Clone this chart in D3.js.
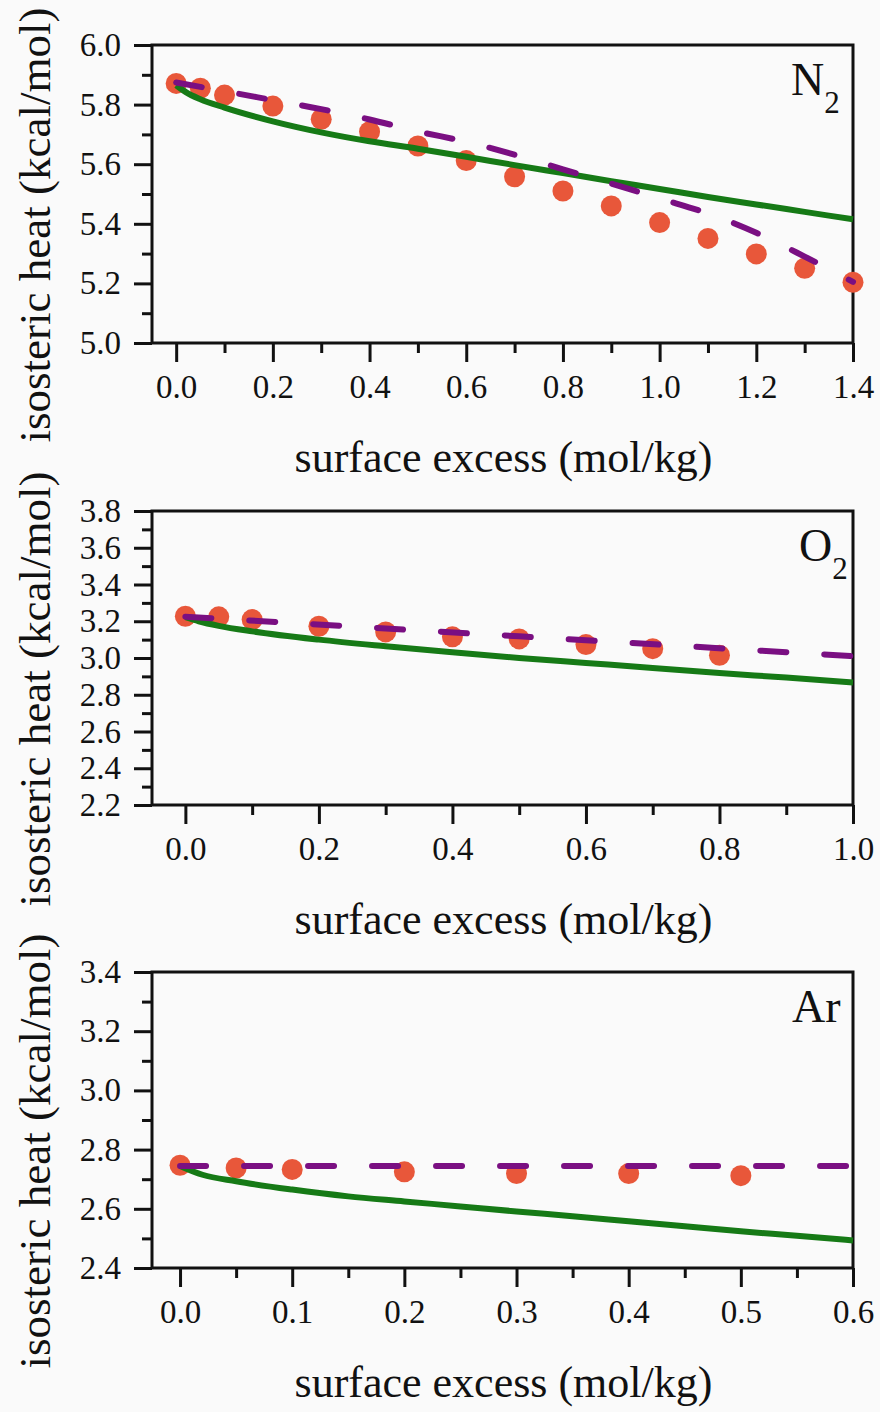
<!DOCTYPE html>
<html>
<head>
<meta charset="utf-8">
<script src="https://cdn.jsdelivr.net/npm/d3@7"></script>
<style>
  html, body { margin: 0; padding: 0; background: #fafafa; }
  svg { display: block; }
  text { font-family: "Liberation Serif", "Times New Roman", serif; fill: #111; }
</style>
</head>
<body>
<svg id="chart" width="880" height="1412"></svg>
<script>
// ---------------- DATA ----------------
// N2 panel
const n2PointX = [0, 0.05, 0.1, 0.2, 0.3, 0.4, 0.5, 0.6, 0.7, 0.8, 0.9, 1.0, 1.1, 1.2, 1.3, 1.4];
const n2PointY = [5.871, 5.855, 5.832, 5.795, 5.751, 5.709, 5.661, 5.612, 5.558, 5.51, 5.46, 5.404, 5.351, 5.299, 5.251, 5.204];
const n2DashX = [0, 0.1, 0.2, 0.3, 0.4, 0.5, 0.6, 0.7, 0.8, 0.9, 1.0, 1.1, 1.2, 1.3, 1.4];
const n2DashY = [5.874, 5.845, 5.815, 5.785, 5.75, 5.71, 5.675, 5.632, 5.583, 5.535, 5.485, 5.435, 5.37, 5.29, 5.205];
const n2SolidX = [0, 0.02, 0.05, 0.1, 0.2, 0.3, 0.4, 0.5, 0.6, 0.7, 0.8, 0.9, 1.0, 1.1, 1.2, 1.3, 1.4];
const n2SolidY = [5.865, 5.842, 5.818, 5.79, 5.744, 5.707, 5.677, 5.652, 5.625, 5.597, 5.57, 5.543, 5.517, 5.49, 5.465, 5.44, 5.415];
const n2XTicks = [0, 0.2, 0.4, 0.6, 0.8, 1.0, 1.2, 1.4];
const n2YTicks = [5.0, 5.2, 5.4, 5.6, 5.8, 6.0];

// O2 panel
const o2PointX = [0, 0.05, 0.1, 0.2, 0.3, 0.4, 0.5, 0.6, 0.7, 0.8];
const o2PointY = [3.227, 3.224, 3.209, 3.173, 3.142, 3.115, 3.104, 3.073, 3.051, 3.015];
const o2DashX = [0, 0.5, 1.0];
const o2DashY = [3.225, 3.118, 3.01];
const o2SolidX = [0, 0.02, 0.05, 0.1, 0.2, 0.3, 0.4, 0.5, 0.6, 0.7, 0.8, 0.9, 1.0];
const o2SolidY = [3.222, 3.2, 3.175, 3.145, 3.1, 3.064, 3.031, 3.0, 2.973, 2.946, 2.918, 2.894, 2.867];
const o2XTicks = [0, 0.2, 0.4, 0.6, 0.8, 1.0];
const o2YTicks = [2.2, 2.4, 2.6, 2.8, 3.0, 3.2, 3.4, 3.6, 3.8];

// Ar panel
const arPointX = [0, 0.05, 0.1, 0.2, 0.3, 0.4, 0.5];
const arPointY = [2.747, 2.738, 2.733, 2.725, 2.719, 2.719, 2.712];
const arDashX = [0, 0.6];
const arDashY = [2.745, 2.745];
const arSolidX = [0, 0.02, 0.05, 0.1, 0.15, 0.2, 0.25, 0.3, 0.35, 0.4, 0.45, 0.5, 0.55, 0.6];
const arSolidY = [2.745, 2.715, 2.693, 2.665, 2.642, 2.625, 2.608, 2.591, 2.575, 2.558, 2.541, 2.524, 2.509, 2.493];
const arXTicks = [0, 0.1, 0.2, 0.3, 0.4, 0.5, 0.6];
const arYTicks = [2.4, 2.6, 2.8, 3.0, 3.2, 3.4];

const xTitle = "surface excess (mol/kg)";
const yTitle = "isosteric heat (kcal/mol)";

// ---------------- PANELS ----------------
const zip = (xs, ys) => xs.map((x, i) => ({ x, y: ys[i] }));

const panels = [
  { name: "N", sub: "2", labelX: 791, xDom: [-0.05, 1.4], yDom: [5.0, 6.0], xMinorStep: 0.1, yMinorStep: 0.1,
    xTicks: n2XTicks, yTicks: n2YTicks, top: 45, bottom: 343,
    points: zip(n2PointX, n2PointY), dash: zip(n2DashX, n2DashY), solid: zip(n2SolidX, n2SolidY) },
  { name: "O", sub: "2", labelX: 799, xDom: [-0.05, 1.0], yDom: [2.2, 3.8], xMinorStep: 0.1, yMinorStep: 0.1,
    xTicks: o2XTicks, yTicks: o2YTicks, top: 511, bottom: 805,
    points: zip(o2PointX, o2PointY), dash: zip(o2DashX, o2DashY), solid: zip(o2SolidX, o2SolidY) },
  { name: "Ar", sub: "", labelX: 792, xDom: [-0.025, 0.6], yDom: [2.4, 3.4], xMinorStep: 0.05, yMinorStep: 0.1,
    xTicks: arXTicks, yTicks: arYTicks, top: 972, bottom: 1268,
    points: zip(arPointX, arPointY), dash: zip(arDashX, arDashY), solid: zip(arSolidX, arSolidY) }
];

const svg = d3.select("#chart");
svg.append("rect").attr("width", 880).attr("height", 1412).attr("fill", "#fafafa");

const left = 152, right = 853;
const colPoint = "#e8573a", colDash = "#7a0f82", colSolid = "#167a16";

function minorValues(dom, step, majors) {
  const out = [];
  const start = Math.ceil(dom[0] / step - 1e-6);
  const end = Math.floor(dom[1] / step + 1e-6);
  for (let i = start; i <= end; i++) {
    const v = +(i * step).toFixed(4);
    if (!majors.some(m => Math.abs(m - v) < 1e-6)) out.push(v);
  }
  return out;
}

panels.forEach(p => {
  const x = d3.scaleLinear().domain(p.xDom).range([left, right]);
  const y = d3.scaleLinear().domain(p.yDom).range([p.bottom, p.top]);
  const g = svg.append("g");

  const xMinor = minorValues([0, p.xDom[1]], p.xMinorStep, p.xTicks);
  const yMinor = minorValues(p.yDom, p.yMinorStep, p.yTicks);

  const xAxisMinor = d3.axisBottom(x).tickValues(xMinor).tickSize(10).tickFormat("");
  const yAxisMinor = d3.axisLeft(y).tickValues(yMinor).tickSize(10).tickFormat("");
  const xAxis = d3.axisBottom(x).tickValues(p.xTicks).tickSize(19).tickPadding(13).tickFormat(d3.format(".1f"));
  const yAxis = d3.axisLeft(y).tickValues(p.yTicks).tickSize(18).tickPadding(13).tickFormat(d3.format(".1f"));

  [g.append("g").attr("transform", `translate(0,${p.bottom})`).call(xAxisMinor),
   g.append("g").attr("transform", `translate(${left},0)`).call(yAxisMinor),
   g.append("g").attr("transform", `translate(0,${p.bottom})`).call(xAxis),
   g.append("g").attr("transform", `translate(${left},0)`).call(yAxis)].forEach(a => {
    a.select(".domain").remove();
    a.selectAll(".tick line").attr("stroke", "#111").attr("stroke-width", 3);
    a.selectAll(".tick text").attr("font-size", 33).attr("fill", "#111")
      .attr("font-family", '"Liberation Serif", serif');
  });

  // frame
  g.append("rect").attr("x", left).attr("y", p.top)
    .attr("width", right - left).attr("height", p.bottom - p.top)
    .attr("fill", "none").attr("stroke", "#111").attr("stroke-width", 3);

  // points
  g.append("g").selectAll("circle").data(p.points).join("circle")
    .attr("cx", d => x(d.x)).attr("cy", d => y(d.y)).attr("r", 10.5)
    .attr("fill", colPoint);

  const line = d3.line().x(d => x(d.x)).y(d => y(d.y)).curve(d3.curveMonotoneX);
  // solid line
  g.append("path").datum(p.solid).attr("d", line)
    .attr("fill", "none").attr("stroke", colSolid).attr("stroke-width", 6);
  // dashed line
  g.append("path").datum(p.dash).attr("d", line)
    .attr("fill", "none").attr("stroke", colDash).attr("stroke-width", 6)
    .attr("stroke-dasharray", "26,38").attr("stroke-linecap", "round");

  // species label
  const lbl = g.append("text").attr("x", p.labelX).attr("y", p.top + 50).attr("font-size", 46);
  lbl.append("tspan").text(p.name);
  if (p.sub) lbl.append("tspan").attr("font-size", 31).attr("dy", 18).text(p.sub);

  // axis titles
  g.append("text").attr("x", (left + right) / 2 + 1).attr("y", p.bottom + 129)
    .attr("text-anchor", "middle").attr("font-size", 44).text(xTitle);
  const cy = (p.top + p.bottom) / 2 + 31;
  g.append("text").attr("transform", `translate(50,${cy}) rotate(-90)`)
    .attr("text-anchor", "middle").attr("font-size", 45).text(yTitle);
});
</script>
</body>
</html>
